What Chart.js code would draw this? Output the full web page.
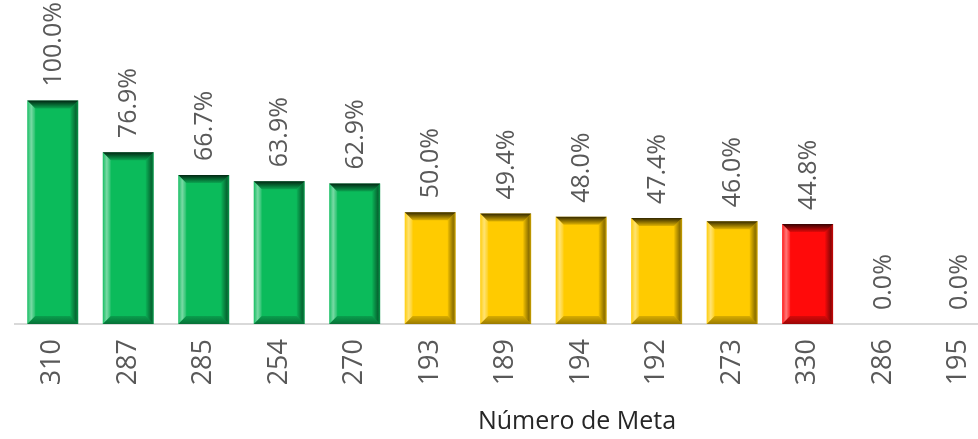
<!DOCTYPE html>
<html>
<head>
<meta charset="utf-8">
<script src="https://cdn.jsdelivr.net/npm/chart.js@4"></script>
<style>
  html, body { margin: 0; padding: 0; background: #fff; overflow: hidden; }
  #wrap { width: 998px; height: 439px; }
</style>
</head>
<body>
<div id="wrap"><canvas id="meta-chart" width="998" height="439"></canvas></div>
<script>
const labels = ['310', '287', '285', '254', '270', '193', '189', '194', '192', '273', '330', '286', '195'];
const avance = [100.0, 76.9, 66.7, 63.9, 62.9, 50.0, 49.4, 48.0, 47.4, 46.0, 44.8, 0.0, 0.0];
const barColors = [
    '#0bbb5b', '#0bbb5b', '#0bbb5b', '#0bbb5b', '#0bbb5b',
    '#ffcb00', '#ffcb00', '#ffcb00', '#ffcb00', '#ffcb00',
    '#ff0a0a', '#ff0a0a', '#ff0a0a',
];

// bevel look like the excel bars
function fillPoly(ctx, pts, fill) {
    ctx.beginPath();
    ctx.moveTo(pts[0][0], pts[0][1]);
    for (let i = 1; i < pts.length; i++) ctx.lineTo(pts[i][0], pts[i][1]);
    ctx.closePath();
    ctx.fillStyle = fill;
    ctx.fill();
}

function grad(ctx, x0, y0, x1, y1, stops) {
    const g = ctx.createLinearGradient(x0, y0, x1, y1);
    stops.forEach(s => g.addColorStop(s[0], s[1]));
    return g;
}

const bevel = {
    id: 'bevel',
    afterDatasetsDraw(chart) {
        const ctx = chart.ctx;
        chart.getDatasetMeta(0).data.forEach((bar) => {
            const p = bar.getProps(['x', 'y', 'base', 'width'], true);
            const l = p.x - p.width / 2, r = p.x + p.width / 2;
            const t = Math.min(p.y, p.base), bt = Math.max(p.y, p.base);
            if (bt - t < 2) return;
            const b = Math.min(8, (bt - t) / 2);
            ctx.save();
            // top
            fillPoly(ctx, [[l, t], [r, t], [r - b, t + b], [l + b, t + b]],
                grad(ctx, 0, t, 0, t + b, [[0, 'rgba(0,0,0,0.8)'], [1, 'rgba(0,0,0,0.12)']]));
            // left
            fillPoly(ctx, [[l, t], [l + b, t + b], [l + b, bt - b], [l, bt]],
                grad(ctx, l, 0, l + b, 0, [[0, 'rgba(255,255,255,0.05)'], [0.5, 'rgba(255,255,255,0.45)'], [1, 'rgba(255,255,255,0.1)']]));
            // right
            fillPoly(ctx, [[r, t], [r, bt], [r - b, bt - b], [r - b, t + b]],
                grad(ctx, r - b, 0, r, 0, [[0, 'rgba(0,0,0,0.05)'], [0.7, 'rgba(0,0,0,0.45)'], [1, 'rgba(0,0,0,0.2)']]));
            // bottom
            fillPoly(ctx, [[l, bt], [l + b, bt - b], [r - b, bt - b], [r, bt]],
                grad(ctx, 0, bt - b, 0, bt, [[0, 'rgba(0,0,0,0.15)'], [1, 'rgba(0,0,0,0.4)']]));
            ctx.restore();
        });
    },
};

// rotated value labels + axis title
const valueLabels = {
    id: 'valueLabels',
    afterDraw(chart) {
        const ctx = chart.ctx;
        ctx.save();
        ctx.font = '25px "Open Sans"';
        ctx.fillStyle = '#595959';
        ctx.textAlign = 'left';
        ctx.textBaseline = 'middle';
        chart.getDatasetMeta(0).data.forEach((bar, i) => {
            ctx.save();
            ctx.translate(bar.x + 1, bar.y - 14);
            ctx.rotate(-Math.PI / 2);
            ctx.fillText(avance[i].toFixed(1) + '%', 0, 0);
            ctx.restore();
        });
        ctx.font = '25px "Open Sans"';
        ctx.fillStyle = '#262626';
        ctx.textAlign = 'center';
        ctx.fillText('Número de Meta', chart.chartArea.left + 562, chart.chartArea.bottom + 98);
        ctx.restore();
    },
};

const data = {
    labels,
    datasets: [{
        data: avance,
        backgroundColor: barColors,
        borderWidth: 0,
        barPercentage: 0.675,
        categoryPercentage: 1,
    }],
};

const config = {
    type: 'bar',
    data: data,
    plugins: [bevel, valueLabels],
    options: {
        responsive: false,
        animation: false,
        devicePixelRatio: 1,
        layout: { padding: { left: 15, right: 0, top: 0, bottom: 0 } },
        plugins: {
            legend: { display: false },
            tooltip: { enabled: false },
        },
        scales: {
            x: {
                grid: { display: false },
                border: { display: true, color: '#d9d9d9', width: 2 },
                ticks: {
                    autoSkip: false,
                    minRotation: 90,
                    maxRotation: 90,
                    padding: 7,
                    color: '#595959',
                    font: { family: 'Open Sans', size: 27 },
                },
                afterFit(scale) { scale.height = 115; },
            },
            y: {
                display: false,
                min: 0,
                max: 145,
            },
        },
    },
};

const ctx = document.querySelector('#meta-chart');
new Chart(ctx, config);
</script>
</body>
</html>
